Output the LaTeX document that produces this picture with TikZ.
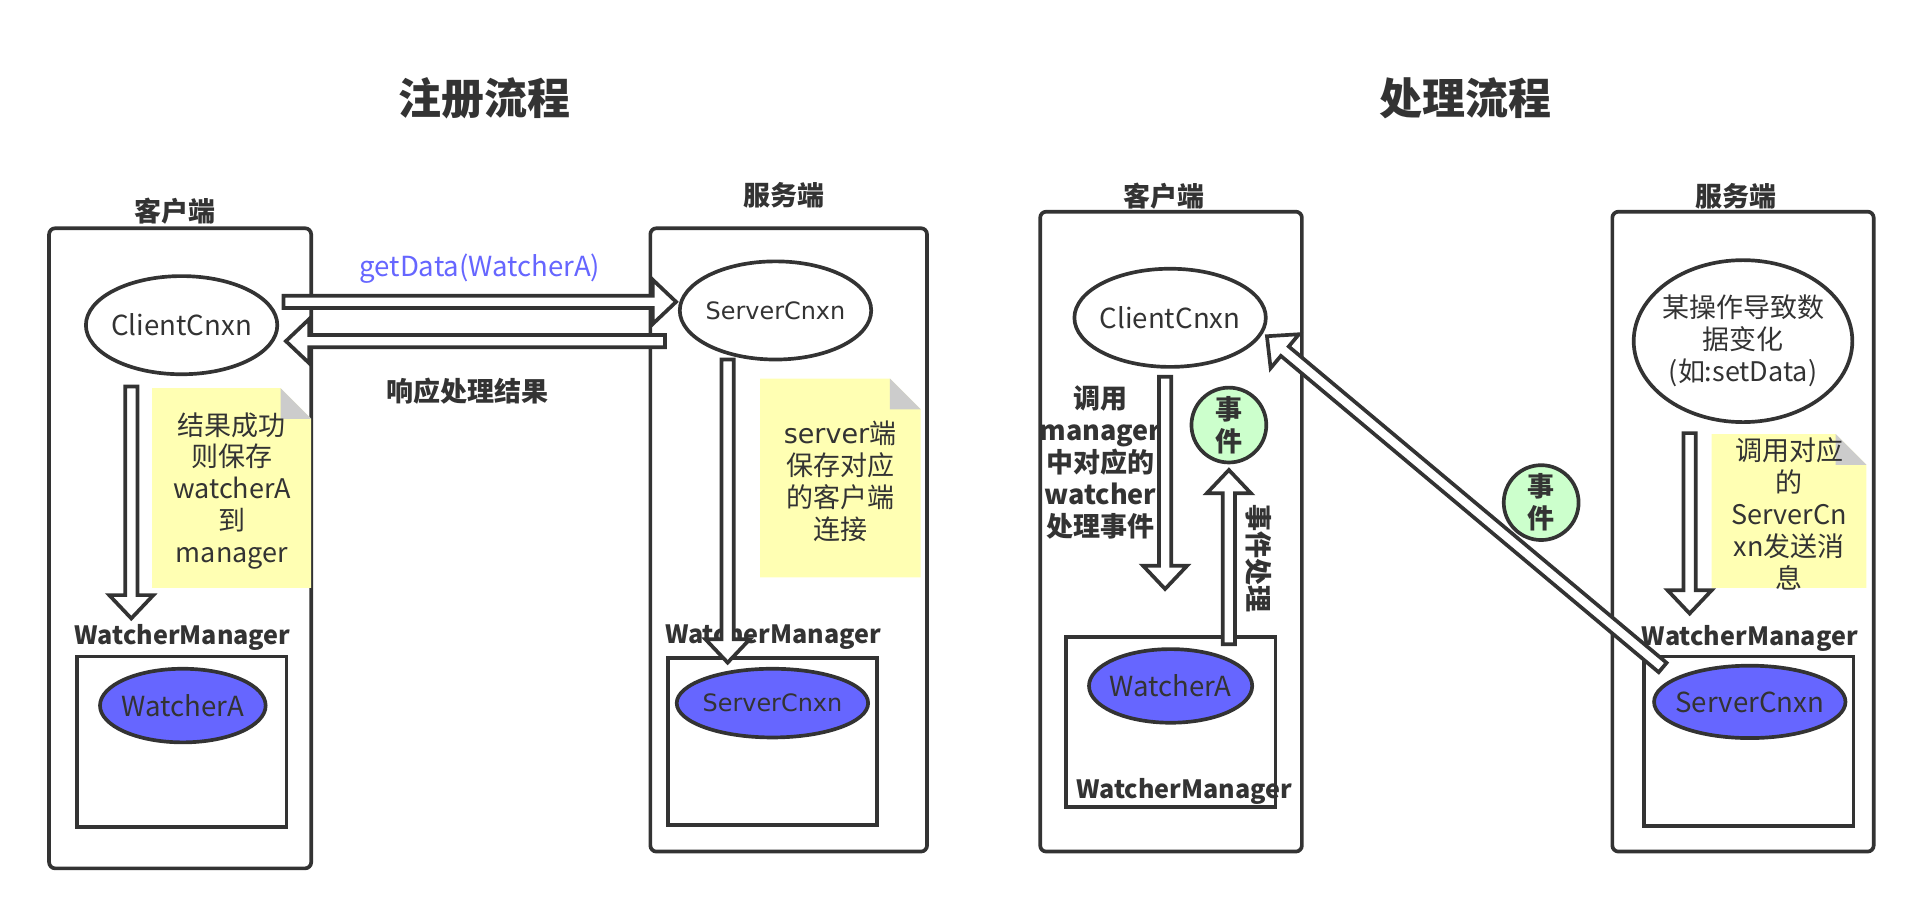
\documentclass[tikz,border=0pt]{standalone}
\usepackage{fontspec}
\setmainfont{Noto Sans CJK SC}
\newfontfamily\widefont{DejaVu Sans}
\usetikzlibrary{calc,shapes.geometric}

\definecolor{dark}{HTML}{333333}
\definecolor{wblue}{HTML}{6666FF}
\definecolor{notey}{HTML}{FFFFB3}
\definecolor{foldg}{HTML}{CCCCCC}
\definecolor{egreen}{HTML}{CCFFCC}

\newcommand{\flowfont}{\fontsize{22pt}{26pt}\selectfont}
\newcommand{\namefont}{\fontsize{22.5pt}{27pt}\selectfont}
\newcommand{\markfont}{\fontsize{20.5pt}{25pt}\selectfont\bfseries}
\newcommand{\headfont}{\fontsize{35pt}{40pt}\selectfont\bfseries}
\newcommand{\arrowshaft}{5pt}
\newcommand{\arrowhalf}{18pt}
\newcommand{\arrowhead}{19pt}

% block arrow from #1 to #2
\newcommand{\hollowarrow}[2]{%
    \coordinate (hb) at ($(#2)!\arrowhead!(#1)$);
    \draw[hollow] ($(#1)!\arrowshaft!90:(#2)$) -- ($(hb)!\arrowshaft!90:(#2)$)
        -- ($(hb)!\arrowhalf!90:(#2)$) -- (#2) -- ($(hb)!\arrowhalf!-90:(#2)$)
        -- ($(hb)!\arrowshaft!-90:(#2)$) -- ($(#1)!\arrowshaft!-90:(#2)$) -- cycle;
}
% yellow note with folded corner
\newcommand{\stickynote}[4]{%
    \fill[notey] (#1,#2) -- (#3-25,#2) -- (#3,#2+25) -- (#3,#4) -- (#1,#4) -- cycle;
    \fill[foldg] (#3-25,#2) -- (#3-25,#2+25) -- (#3,#2+25) -- cycle;
}

\tikzset{
    flow/.style={
        x=1pt,y=-1pt,
        every node/.append style={text=dark},
        heading/.append style={font=\headfont},
        side/.append style={font=\flowfont\bfseries,inner sep=0pt},
        mgr/.append style={font=\markfont,inner sep=0pt,anchor=base},
        memo/.append style={font=\flowfont,align=center,inner sep=0pt},
        call/.append style={font=\namefont,text=wblue,inner sep=0pt},
        frame/.append style={draw=dark,line width=3pt,rounded corners=5pt},
        store/.append style={draw=dark,line width=3pt},
        conn/.append style={ellipse,draw=dark,line width=3pt,fill=white,inner ysep=0pt,inner xsep=-14pt,minimum width=156pt,minimum height=80pt,font=\namefont},
        watcher/.append style={conn,fill=wblue,minimum height=60pt},
        event/.append style={circle,draw=dark,line width=3pt,fill=egreen,minimum size=61pt,inner sep=0pt,align=center,font=\flowfont\bfseries},
        hollow/.append style={draw=dark,fill=white,line width=3pt,line join=miter}
    }
}

\begin{document}
\begin{tikzpicture}[flow]
    \fill[white] (0,0) rectangle (1568,748);
    \useasboundingbox (0,0) rectangle (1568,748);
    \node[heading] (t1) at (395,80) {注册流程};
    \node[heading] (t2) at (1194.5,80) {处理流程};

    % registration
    \node[side] (c1) at (142.6,172.5) {客户端};
    \node[side] (s1) at (639,159.5) {服务端};
    \draw[frame] (40,186) rectangle (253.6,707.7);
    \draw[frame] (530,186) rectangle (755.5,694);
    \draw[store] (63,535) rectangle (233.6,673.7);
    \draw[store] (544.6,536) rectangle (714.8,672.4);
    \stickynote{124}{316.4}{253.6}{479}
    \stickynote{619.4}{308.6}{750.3}{470.5}
    \node[memo] (n1) at (189,400) {结果成功\\则保存\\watcherA\\到\\manager};
    \node[memo] (n2) at (684.6,392) {{\widefont server}端\\保存对应\\的客户端\\连接};
    \node[call] (g1) at (391,219) {getData(WatcherA)};
    \node[side] (g2) at (381,318.5) {响应处理结果};
    \node[mgr] (m1) at (148.7,525) {WatcherManager};
    \node[mgr] (m2) at (630,524.5) {WatcherManager};
    \node[conn] (cc1) at (148,265) {ClientCnxn};
    \node[conn,font=\widefont\fontsize{19.5pt}{23pt}\selectfont] (sc1) at (632,253) {ServerCnxn};
    \node[watcher,minimum width=135pt] (wa1) at (149,575) {WatcherA};
    \node[watcher,minimum height=56pt,font=\widefont\fontsize{19.5pt}{23pt}\selectfont] (sc1b) at (629.5,573) {ServerCnxn};

    \coordinate (a1s) at (107,315);
    \coordinate (a1e) at (107,504);
    \coordinate (r1s) at (231,246);
    \coordinate (r1e) at (551,246);
    \coordinate (r2s) at (542,278);
    \coordinate (r2e) at (233,278);
    \coordinate (a2s) at (593,293);
    \coordinate (a2e) at (593,540);
    \hollowarrow{a1s}{a1e}
    \hollowarrow{r1s}{r1e}
    \hollowarrow{r2s}{r2e}
    \hollowarrow{a2s}{a2e}

    % processing
    \node[side] (c2) at (949,160) {客户端};
    \node[side] (s2) at (1415,160) {服务端};
    \draw[frame] (847.7,172.5) rectangle (1061,694);
    \draw[frame] (1314,172.5) rectangle (1527,694);
    \draw[store] (868.8,519) rectangle (1039.5,657.5);
    \draw[store] (1340,535) rectangle (1510.6,673);
    \stickynote{1395}{353.8}{1521}{479}
    \node[memo] (n3) at (1458,419) {调用对应\\的\\ServerCn\\xn发送消\\息};
    \node[side,align=center] (h1) at (896.8,377) {调用\\manager\\中对应的\\watcher\\处理事件};
    \node[side,rotate=-90] (h2) at (1025.5,455) {事件处理};
    \node[mgr] (m3) at (965,651) {WatcherManager};
    \node[mgr] (m4) at (1426,526) {WatcherManager};
    \node[conn] (cc2) at (953.6,259) {ClientCnxn};
    \node[conn,minimum width=175pt,minimum height=132pt,inner xsep=-3pt,align=center,font=\flowfont] (op) at (1420.5,278) {某操作导致数\\据变化\\(如:setData)};
    \node[watcher,minimum width=133pt] (wa2) at (954,559) {WatcherA};
    \node[watcher,minimum height=59pt] (sc2b) at (1426,572) {ServerCnxn};
    \node[event] (e1) at (1001.5,346.4) {事\\件};

    \coordinate (a3s) at (949.5,307);
    \coordinate (a3e) at (949.5,480);
    \coordinate (a4s) at (1001.5,525);
    \coordinate (a4e) at (1001.5,383);
    \coordinate (a5s) at (1377,353);
    \coordinate (a5e) at (1377,500);
    \coordinate (d1s) at (1355,544);
    \coordinate (d1e) at (1032.5,274);
    \hollowarrow{a3s}{a3e}
    \hollowarrow{a4s}{a4e}
    \hollowarrow{a5s}{a5e}
    \hollowarrow{d1s}{d1e}
    \node[event] (e2) at (1256,409.6) {事\\件};
\end{tikzpicture}
\end{document}
